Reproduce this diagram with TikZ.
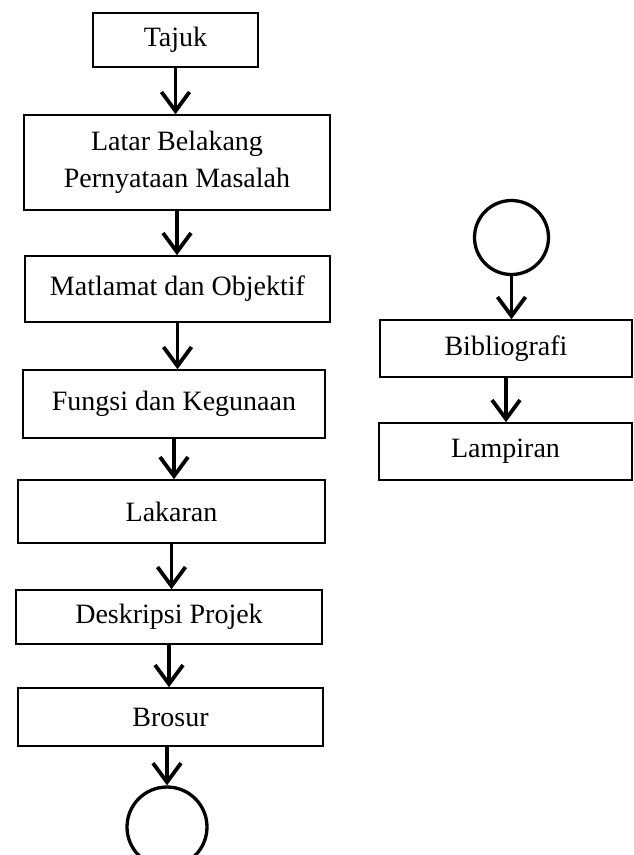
\documentclass[tikz,border=0pt]{standalone}
\usepackage{fontspec}
\setmainfont{Liberation Serif}
\usetikzlibrary{positioning,arrows.meta}

\begin{document}
\begin{tikzpicture}[x=1pt,y=-1pt,%
		>={Straight Barb[length=19pt,width=28pt]},%
		box/.style={draw, line width=1.6pt, align=center, inner sep=0pt,%
			font=\fontsize{28}{37}\selectfont},%
		endcirc/.style={draw, circle, line width=3.3pt, inner sep=0pt},%
		link/.style={->, line width=3.8pt}]
		\useasboundingbox (0,0) rectangle (633,855);
		% main column
		\node[box, minimum width=165pt, minimum height=54pt] (tajuk) at (175.5,40) {Tajuk};
		\node[box, minimum width=306pt, minimum height=95pt] (latar) at (177,162.5)
			{Latar Belakang\\Pernyataan Masalah};
		\node[box, minimum width=305pt, minimum height=66pt] (matlamat) at (177.5,289)
			{Matlamat dan Objektif};
		\node[box, minimum width=302pt, minimum height=68pt] (fungsi) at (174,404)
			{Fungsi dan Kegunaan};
		\node[box, minimum width=307pt, minimum height=63pt] (lakaran) at (171.5,511.5)
			{Lakaran};
		\node[box, minimum width=306pt, minimum height=54pt] (deskripsi) at (169,617)
			{Deskripsi Projek};
		\node[box, minimum width=305pt, minimum height=58pt] (brosur) at (170.5,717)
			{Brosur};
		\node[endcirc, minimum size=80pt] (akhir) at (167,827) {};
		% right column
		\node[endcirc, minimum size=74pt] (mula) at (511.5,237.5) {};
		\node[box, minimum width=252pt, minimum height=57pt] (biblio) at (506,348.5)
			{Bibliografi};
		\node[box, minimum width=253pt, minimum height=57pt] (lampiran) at (505.5,451.5)
			{Lampiran};
		% arrows
		\draw[link] (tajuk.south) -- (tajuk.south |- latar.north);
		\draw[link] (latar.south) -- (latar.south |- matlamat.north);
		\draw[link] (matlamat.south) -- (matlamat.south |- fungsi.north);
		\draw[link] (fungsi.south) -- (fungsi.south |- lakaran.north);
		\draw[link] (lakaran.south) -- (lakaran.south |- deskripsi.north);
		\draw[link] (deskripsi.south) -- (deskripsi.south |- brosur.north);
		\draw[link] (brosur.south -| akhir.north) -- (akhir.north);
		\draw[link] (mula.south) -- (mula.south |- biblio.north);
		\draw[link] (biblio.south) -- (biblio.south |- lampiran.north);
\end{tikzpicture}
\end{document}
